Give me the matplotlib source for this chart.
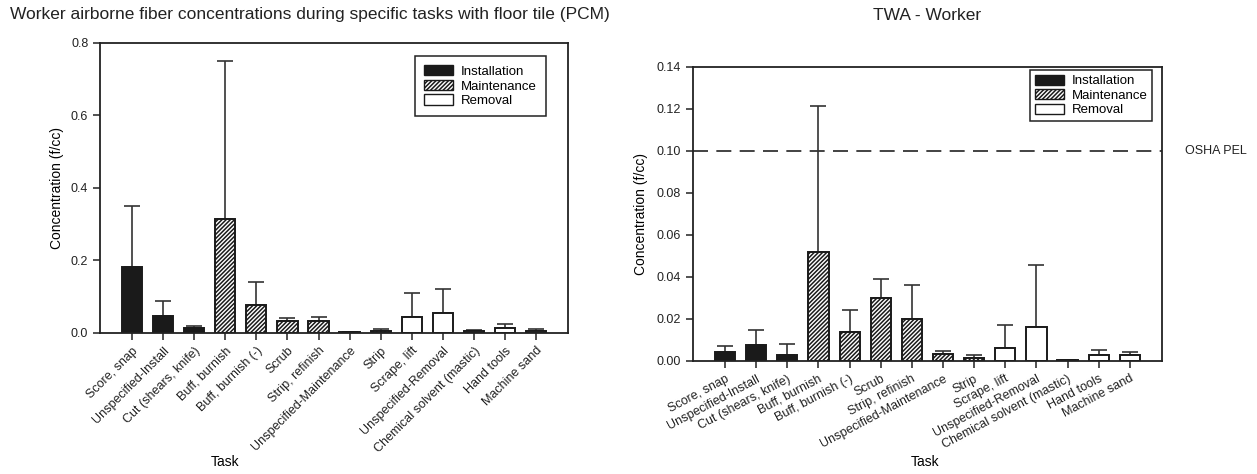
import numpy as np
import matplotlib
matplotlib.use("Agg")
import matplotlib.pyplot as plt
from matplotlib.patches import Patch

plt.rcParams['font.family'] = ['Liberation Sans', 'DejaVu Sans']
plt.rcParams['hatch.linewidth'] = 1.1

# Task categories (same order on both charts)
tasks = ["Score, snap", "Unspecified-Install", "Cut (shears, knife)", "Buff, burnish",
         "Buff, burnish (-)", "Scrub", "Strip, refinish", "Unspecified-Maintenance",
         "Strip", "Scrape, lift", "Unspecified-Removal", "Chemical solvent (mastic)",
         "Hand tools", "Machine sand"]

# Task group for each bar (I = installation, M = maintenance, R = removal)
groups = ["I", "I", "I", "M", "M", "M", "M", "M", "M", "R", "R", "R", "R", "R"]

# Left chart: PCM mean and top of error bar (f/cc)
pcm_mean = [0.182, 0.046, 0.013, 0.315, 0.078, 0.032, 0.032, 0.003, 0.006, 0.045, 0.056, 0.006, 0.015, 0.006]
pcm_top = [0.350, 0.088, 0.020, 0.750, 0.141, 0.040, 0.045, 0.004, 0.011, 0.110, 0.122, 0.007, 0.024, 0.011]

# Right chart: TWA mean and top of error bar (f/cc)
twa_mean = [0.0041, 0.0075, 0.0030, 0.0520, 0.0140, 0.0300, 0.0200, 0.0035, 0.0015, 0.0063, 0.0163, 0.0003, 0.0029, 0.0027]
twa_top = [0.0073, 0.0147, 0.0082, 0.1215, 0.0241, 0.0392, 0.0362, 0.0049, 0.0028, 0.0170, 0.0455, 0.0004, 0.0052, 0.0041]

osha_pel = 0.10

styles = {
    "I": dict(facecolor="#1a1a1a", hatch=None),
    "M": dict(facecolor="white", hatch="////////"),
    "R": dict(facecolor="white", hatch=None),
}


def draw_bars(ax, means, tops):
    x = np.arange(len(tasks))
    for i in range(len(tasks)):
        st = styles[groups[i]]
        ax.bar(x[i], means[i], width=0.65, color=st["facecolor"], edgecolor="#1a1a1a",
               hatch=st["hatch"], linewidth=1.4, zorder=2)
        ax.errorbar(x[i], means[i], yerr=[[0], [tops[i] - means[i]]], fmt="none",
                    ecolor="#333333", elinewidth=1.2, capsize=6, capthick=1.2, zorder=1)
    ax.set_xticks(x)
    ax.set_xlim(-1.03, len(tasks) - 1 + 1.03)
    for sp in ax.spines.values():
        sp.set_linewidth(1.3)
        sp.set_color("#222222")
    ax.tick_params(axis="both", direction="out", length=5, width=1.1, labelsize=9, colors="#222222")


def add_legend(ax, anchor, pad):
    handles = [Patch(facecolor="#1a1a1a", edgecolor="#1a1a1a", label="Installation"),
               Patch(facecolor="white", edgecolor="#1a1a1a", hatch="////////", label="Maintenance"),
               Patch(facecolor="white", edgecolor="#1a1a1a", label="Removal")]
    leg = ax.legend(handles=handles, loc="upper right", bbox_to_anchor=anchor, borderaxespad=0,
                    fontsize=9.5, fancybox=False, framealpha=1, edgecolor="#222222",
                    handlelength=2.2, handleheight=0.8, labelspacing=0.15, borderpad=pad,
                    handletextpad=0.6)
    leg.get_frame().set_linewidth(1.1)


fig = plt.figure(figsize=(12.57, 4.74), dpi=100)

# Left chart
ax1 = fig.add_axes([0.0796, 0.2975, 0.3723, 0.6118])
draw_bars(ax1, pcm_mean, pcm_top)
ax1.set_ylim(0, 0.8)
ax1.set_yticks([0.0, 0.2, 0.4, 0.6, 0.8])
ax1.set_yticklabels(["0.0", "0.2", "0.4", "0.6", "0.8"])
ax1.set_xticklabels(tasks, rotation=45, ha="right", rotation_mode="anchor")
ax1.set_ylabel("Concentration (f/cc)", fontsize=10, labelpad=5)
ax1.set_xlabel("Task", fontsize=10)
ax1.xaxis.set_label_coords(0.267, -0.42)
add_legend(ax1, (0.953, 0.955), 0.7)
fig.text(0.008, 0.97, "Worker airborne fiber concentrations during specific tasks with floor tile (PCM)",
         fontsize=12.5, ha="left", va="center", color="#222222")

# Right chart
ax2 = fig.add_axes([0.5513, 0.2384, 0.3731, 0.6203])
draw_bars(ax2, twa_mean, twa_top)
ax2.axhline(osha_pel, color="#222222", linestyle=(0, (9, 5)), linewidth=1.2, zorder=0)
ax2.set_ylim(0, 0.14)
ax2.set_yticks([0.0, 0.02, 0.04, 0.06, 0.08, 0.10, 0.12, 0.14])
ax2.set_yticklabels(["0.00", "0.02", "0.04", "0.06", "0.08", "0.10", "0.12", "0.14"])
ax2.set_xticklabels(tasks, rotation=28, ha="right", rotation_mode="anchor")
ax2.set_ylabel("Concentration (f/cc)", fontsize=10, labelpad=6)
ax2.set_xlabel("Task", fontsize=10)
ax2.xaxis.set_label_coords(0.495, -0.32)
ax2.text(1.05, osha_pel, "OSHA PEL", transform=ax2.get_yaxis_transform(), fontsize=9,
         ha="left", va="center", color="#222222")
add_legend(ax2, (0.979, 0.99), 0.35)
fig.text(0.7375, 0.968, "TWA - Worker", fontsize=12.5, ha="center", va="center", color="#222222")

fig.savefig("out.png", dpi=100)
